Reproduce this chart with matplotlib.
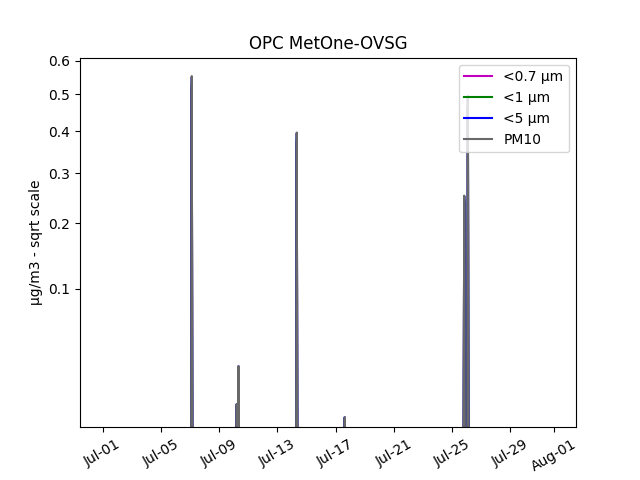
import numpy as np
import pandas as pd
import matplotlib
matplotlib.use("Agg")
import matplotlib.pyplot as plt
import matplotlib.dates as mdates

# hourly record, july (zero except short events)
start = "2023-07-01 00:00"
end = "2023-07-31 23:00"

# event times and peak values per size class (ug/m3)
event_times = ["2023-07-07 03:00", "2023-07-10 05:00", "2023-07-10 08:00",
               "2023-07-14 08:00", "2023-07-17 15:00", "2023-07-25 20:00",
               "2023-07-26 02:00"]
pm07 = [0.52, 0.006, 0.024, 0.37, 0.003, 0.24, 0.46]
pm1 = [0.53, 0.0065, 0.025, 0.38, 0.0031, 0.245, 0.47]
pm5 = [0.55, 0.007, 0.0256, 0.395, 0.0033, 0.252, 0.49]
pm10 = [0.553, 0.007, 0.0256, 0.397, 0.0033, 0.253, 0.495]

times = pd.date_range(start, end, freq="h")
df = pd.DataFrame(0.0, index=times, columns=["<0.7 µm", "<1 µm", "<5 µm", "PM10"])
for t, a, b, c, d in zip(event_times, pm07, pm1, pm5, pm10):
    df.loc[pd.Timestamp(t)] = [a, b, c, d]

colors = {"<0.7 µm": "m", "<1 µm": "g", "<5 µm": "b", "PM10": "dimgray"}

fig, ax = plt.subplots(figsize=(6.4, 4.8), dpi=100)
for col in df.columns:
    ax.plot(df.index, df[col], color=colors[col], label=col)

ax.set_yscale("function", functions=(np.sqrt, lambda x: x ** 2))
ax.xaxis.set_major_formatter(mdates.DateFormatter("%b-%d"))
plt.setp(ax.get_xticklabels(), rotation=30)
ax.set_ylabel("µg/m3 - sqrt scale")
ax.set_title("OPC MetOne-OVSG")
ax.legend(loc="upper right")

plt.savefig("out.png")
